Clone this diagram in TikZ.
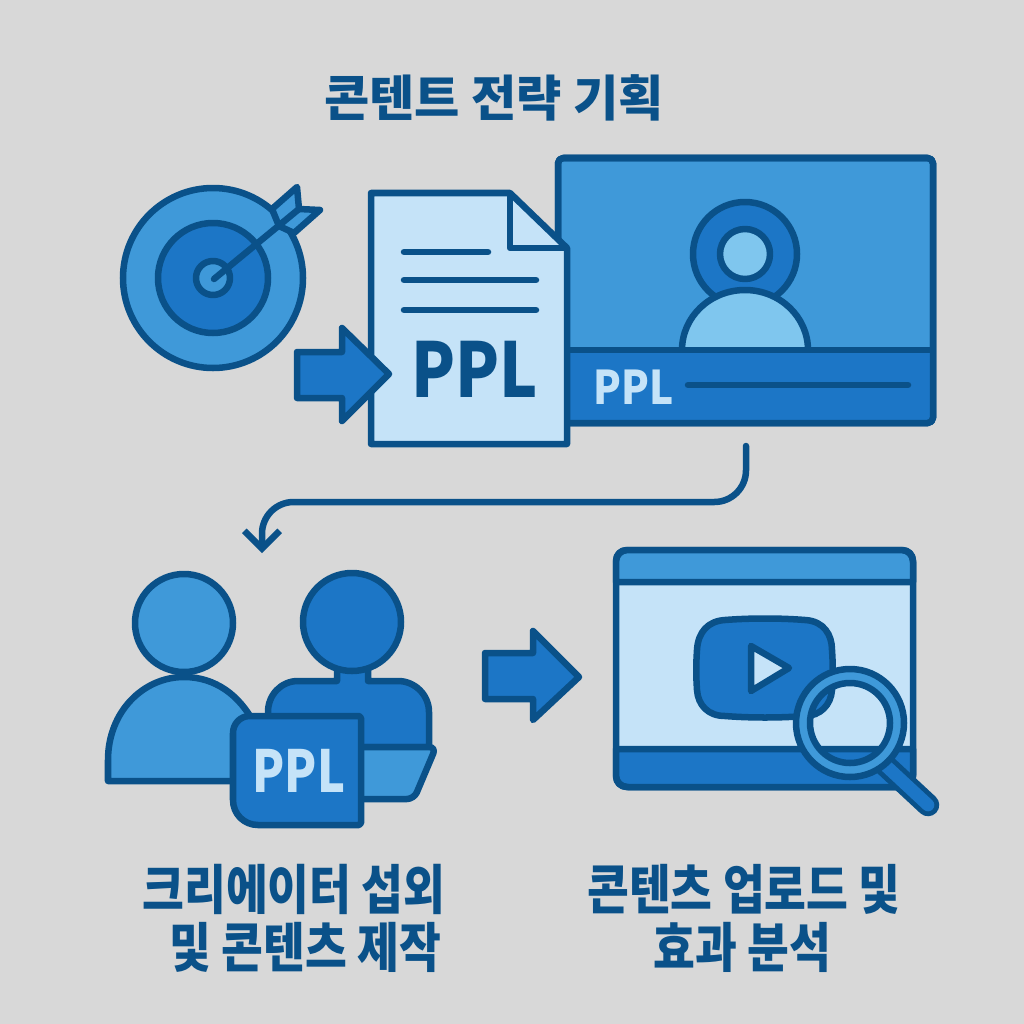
\documentclass[tikz,border=0pt]{standalone}
\usepackage{fontspec}
\setmainfont{Noto Sans CJK KR}
\usetikzlibrary{arrows.meta}
\definecolor{deepblue}{HTML}{0A5189}
\definecolor{midblue}{HTML}{1C76C6}
\definecolor{softblue}{HTML}{3F99D9}
\definecolor{skyblue}{HTML}{7FC6EE}
\definecolor{paleblue}{HTML}{C5E3F8}
\definecolor{greybg}{HTML}{D8D8D8}
\begin{document}
\begin{tikzpicture}[x=0.01cm, y=-0.01cm, line join=round,
    main line/.style={draw=deepblue, line width=1.85pt},
    bar line/.style={draw=deepblue, line width=1.85pt, line cap=round},
    title text/.style={text=deepblue, font=\fontsize{14pt}{16pt}\bfseries, inner sep=0pt},
    label text/.style={text=deepblue, font=\fontsize{13.6pt}{16pt}\bfseries, inner sep=0pt, xscale=0.95, yscale=1.12},
    big ppl/.style={font=\fontsize{#1}{#1}\bfseries, inner sep=0pt}]

  \fill[greybg] (0,0) rectangle (1024,1024);

  \node[title text] (title) at (494,98) {콘텐트 전략 기획};

  % target
  \filldraw[main line, fill=softblue] (213,278) circle (90);
  \filldraw[main line, fill=midblue] (213,278) circle (55);
  \filldraw[main line, fill=softblue] (213,278) circle (17);
  \filldraw[main line, fill=softblue] (272,209) -- (297,187) -- (299,209) -- (320,210) -- (294,233) -- (279,226) -- cycle;
  \draw[bar line] (214,279) -- (299,209);

  % screen
  \filldraw[main line, fill=softblue, rounded corners=1.5pt] (558,158) rectangle (933,423);
  \fill[midblue, rounded corners=1.5pt] (558,350) rectangle (933,423);
  \filldraw[main line, fill=midblue] (745,254) circle (52);
  \filldraw[main line, fill=skyblue] (745,254) circle (25);
  \filldraw[main line, fill=skyblue] (682,350) arc[start angle=180, end angle=360, x radius=63, y radius=60];
  \draw[main line] (558,350) -- (933,350);
  \draw[main line, rounded corners=1.5pt] (558,158) rectangle (933,423);
  \node[big ppl=13.2pt, text=paleblue, xscale=0.875] (ppl screen) at (634,387) {PPL};
  \draw[bar line] (688,385) -- (908,385);

  % document
  \filldraw[main line, fill=paleblue] (371,193) -- (510,193) -- (567,248) -- (567,444) -- (371,444) -- cycle;
  \draw[main line] (510,193) -- (510,248) -- (567,248);
  \draw[bar line] (404,252) -- (488,252);
  \draw[bar line] (404,280) -- (536,280);
  \draw[bar line] (404,310) -- (536,310);
  \node[big ppl=21.5pt, text=deepblue, xscale=0.85] (ppl doc) at (475,369) {PPL};
  \filldraw[main line, fill=midblue] (297,352) -- (342,352) -- (342,328) -- (389,374) -- (342,421) -- (342,398) -- (297,398) -- cycle;

  \coordinate (turn from) at (746,446);
  \coordinate (turn bend) at (262,502);
  \coordinate (turn to) at (262,553);
  \draw[bar line, rounded corners=9pt, -{Straight Barb[length=5pt, width=10pt]}] (turn from) |- (turn bend) -- (turn to);

  % people
  \filldraw[main line, fill=softblue] (108,781) -- (108,760) .. controls (108,712) and (143,677) .. (184,677) .. controls (215,677) and (240,695) .. (255,725) -- (255,781) -- cycle;
  \filldraw[main line, fill=softblue] (184,623) circle (49);
  \filldraw[main line, fill=midblue] (268,747) -- (268,712) .. controls (268,695) and (281,681) .. (298,681) -- (337,681) -- (337,665) -- (368,665) -- (368,681) -- (398,681) .. controls (415,681) and (429,695) .. (429,712) -- (429,747) -- cycle;
  \filldraw[main line, fill=midblue] (352,622) circle (49);
  \filldraw[main line, fill=softblue, rounded corners=2pt] (350,747) -- (436,747) -- (414,799) -- (350,799) -- cycle;
  \filldraw[main line, fill=midblue] (250,716) -- (359,716) -- (361,718) -- (361,823) -- (359,825) -- (258,825) .. controls (244,825) and (233,814) .. (233,800) -- (233,733) .. controls (233,724) and (240,716) .. (250,716) -- cycle;
  \node[big ppl=16.5pt, text=paleblue, xscale=0.81] (ppl badge) at (299,771) {PPL};

  % arrow between people and window
  \filldraw[main line, fill=midblue] (485,653) -- (533,653) -- (533,631) -- (579,677) -- (533,720) -- (533,699) -- (485,699) -- cycle;

  % window
  \filldraw[main line, fill=paleblue, rounded corners=3pt] (616,550) rectangle (913,787);
  \filldraw[main line, fill=softblue] (616,582) -- (616,562) .. controls (616,555) and (621,550) .. (628,550) -- (901,550) .. controls (908,550) and (913,555) .. (913,562) -- (913,582) -- cycle;
  \filldraw[main line, fill=midblue] (616,749) -- (616,775) .. controls (616,782) and (621,787) .. (628,787) -- (901,787) .. controls (908,787) and (913,782) .. (913,775) -- (913,749) -- cycle;
  \filldraw[main line, fill=midblue] (725,620) .. controls (750,618) and (780,618) .. (805,620) .. controls (824,621) and (832,635) .. (832,650) .. controls (833,665) and (833,675) .. (832,690) .. controls (831,705) and (820,716) .. (805,716) .. controls (780,718) and (750,718) .. (725,716) .. controls (708,716) and (698,705) .. (697,690) .. controls (696,675) and (696,665) .. (697,650) .. controls (698,632) and (708,621) .. (725,620) -- cycle;
  \filldraw[main line, fill=paleblue] (751,646) -- (789,668) -- (751,691) -- cycle;

  % magnifier
  \draw[deepblue, line width=6.4pt, line cap=round] (885,765) -- (928,805);
  \draw[midblue, line width=3.6pt, line cap=round] (885,765) -- (928,805);
  \path[fill=softblue, even odd rule] (850,723) circle (54) (850,723) circle (40);
  \draw[main line] (850,723) circle (54);
  \draw[main line] (850,723) circle (40);

  % labels
  \node[label text] (label a1) at (294,889) {크리에이터 섭외};
  \node[label text] (label a2) at (305,947) {및 콘텐츠 제작};
  \node[label text] (label b1) at (744,889) {콘텐츠 업로드 및};
  \node[label text] (label b2) at (742,947) {효과 분석};
\end{tikzpicture}
\end{document}
